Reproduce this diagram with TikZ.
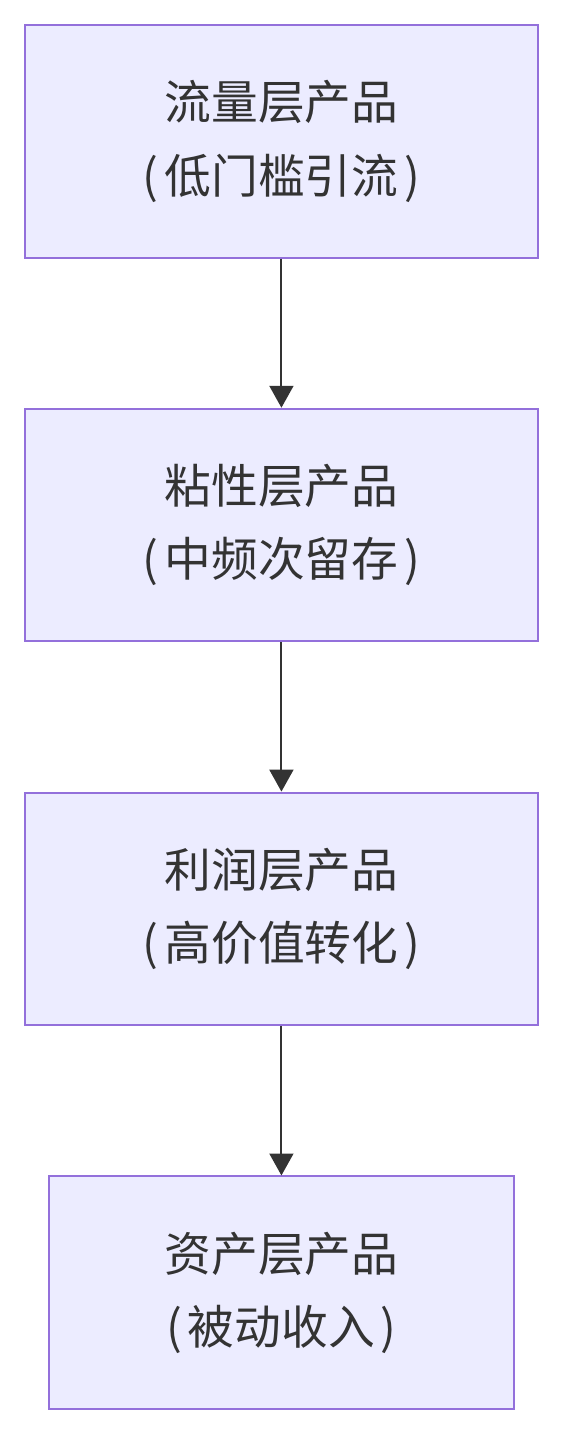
\documentclass[tikz,border=0pt]{standalone}
\usepackage{fontspec}
\newfontfamily\cjk{Noto Sans CJK SC}
\usepackage{tikz}
\usetikzlibrary {arrows.meta,
                 positioning}
\definecolor{boxfill}{HTML}{ECECFF}
\definecolor{boxline}{HTML}{9370DB}
\definecolor{ink}{HTML}{333333}
\newcommand{\lp}{(\kern3pt}
\newcommand{\rp}{\kern3pt)}
\tikzset{
        proc/.style={draw=boxline, fill=boxfill, line width=1pt, align=center,
        rectangle, text=ink, font=\cjk\fontsize{23.5}{37}\selectfont,
        minimum width=258pt, minimum height=117pt, inner sep=0pt},
        myarrow/.style={-{Triangle[length=11pt, width=12pt]}, draw=ink,
        line width=1pt},
 }
\begin{document}
\begin{tikzpicture}
    \node[proc] (flow) {流量层产品\\\lp 低门槛引流\rp};

    \node[proc, below = 75pt of flow] (sticky) {粘性层产品\\\lp 中频次留存\rp};

    \node[proc, below = 75pt of sticky] (profit) {利润层产品\\\lp 高价值转化\rp};

    \node[proc, minimum width=234pt, below = 75pt of profit] (asset)
    {资产层产品\\\lp 被动收入\rp};

    \draw[myarrow] (flow) -- (sticky);
    \draw[myarrow] (sticky) -- (profit);
    \draw[myarrow] (profit) -- (asset);

    \useasboundingbox ([shift={(-12pt,12pt)}]flow.north west)
        rectangle ([shift={(12pt,-12pt)}]flow.east |- asset.south);
\end{tikzpicture}
\end{document}
